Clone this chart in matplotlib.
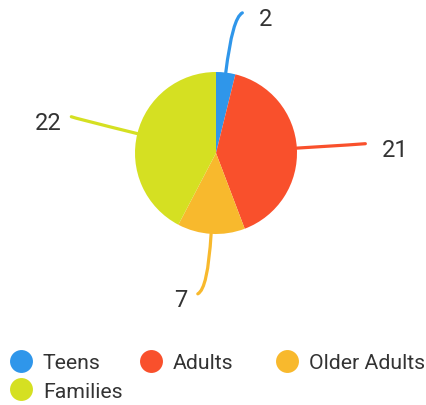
import numpy as np
import matplotlib
matplotlib.use('Agg')
import matplotlib.pyplot as plt
from matplotlib.path import Path
from matplotlib.patches import PathPatch
from matplotlib.lines import Line2D

plt.rcParams['font.family'] = ['Roboto', 'DejaVu Sans']

labels = ['Teens', 'Adults', 'Older Adults', 'Families']
values = [2, 21, 7, 22]
colors = ['#2F96EA', '#F9502C', '#F8B92D', '#D5E022']
text_color = '#333333'

W, H = 426, 406
fig = plt.figure(figsize=(W / 100, H / 100), dpi=100)
ax = fig.add_axes([0, 0, 1, 1])

# pie in pixel-like data units (y up)
cx, cy, r = 216, 252, 81
wedges, _ = ax.pie(values, colors=colors, startangle=90, counterclock=False,
                   center=(cx, cy), radius=r, wedgeprops=dict(linewidth=0))
ax.set_xlim(0, W)
ax.set_ylim(0, H)
ax.set_aspect('equal')
ax.axis('off')

# curved leader lines + value labels
for w, v, c in zip(wedges, values, colors):
    mid = np.deg2rad((w.theta1 + w.theta2) / 2)
    ca, sa = np.cos(mid), np.sin(mid)
    side = 1 if ca >= 0 else -1
    k = 1.85 - 0.17 * abs(sa)
    p0 = (cx + r * ca, cy + r * sa)
    p1 = (cx + k * r * ca, cy + k * r * sa)
    hook = 10 * abs(sa)
    p2 = (p1[0] + side * hook, p1[1] + 5 * sa)
    path = Path([p0, p1, p2], [Path.MOVETO, Path.CURVE3, Path.CURVE3])
    ax.add_patch(PathPatch(path, fill=False, edgecolor=c, linewidth=2.3,
                           capstyle='round'))
    gap = 17 if side > 0 else 10
    ax.text(p2[0] + side * gap, p2[1] - 6, str(v), fontsize=17,
            color=text_color, ha='left' if side > 0 else 'right', va='center')

# legend: two blocks to mimic fixed-width items
def handle(c):
    return Line2D([], [], marker='o', linestyle='', markersize=16.5,
                  markerfacecolor=c, markeredgewidth=0)

leg_kw = dict(frameon=False, fontsize=15.3, handlelength=1.05, handletextpad=0.5,
              borderpad=0, borderaxespad=0, labelspacing=0.45,
              labelcolor=text_color, loc='upper left')
fig.legend([handle(colors[0]), handle(colors[3])], [labels[0], labels[3]],
           ncol=1, bbox_to_anchor=(10 / W, 1 - 354 / H), **leg_kw)
fig.legend([handle(colors[1]), handle(colors[2])], [labels[1], labels[2]],
           ncol=2, columnspacing=2.0, bbox_to_anchor=(140 / W, 1 - 354 / H), **leg_kw)

fig.savefig('out.png', dpi=100)
